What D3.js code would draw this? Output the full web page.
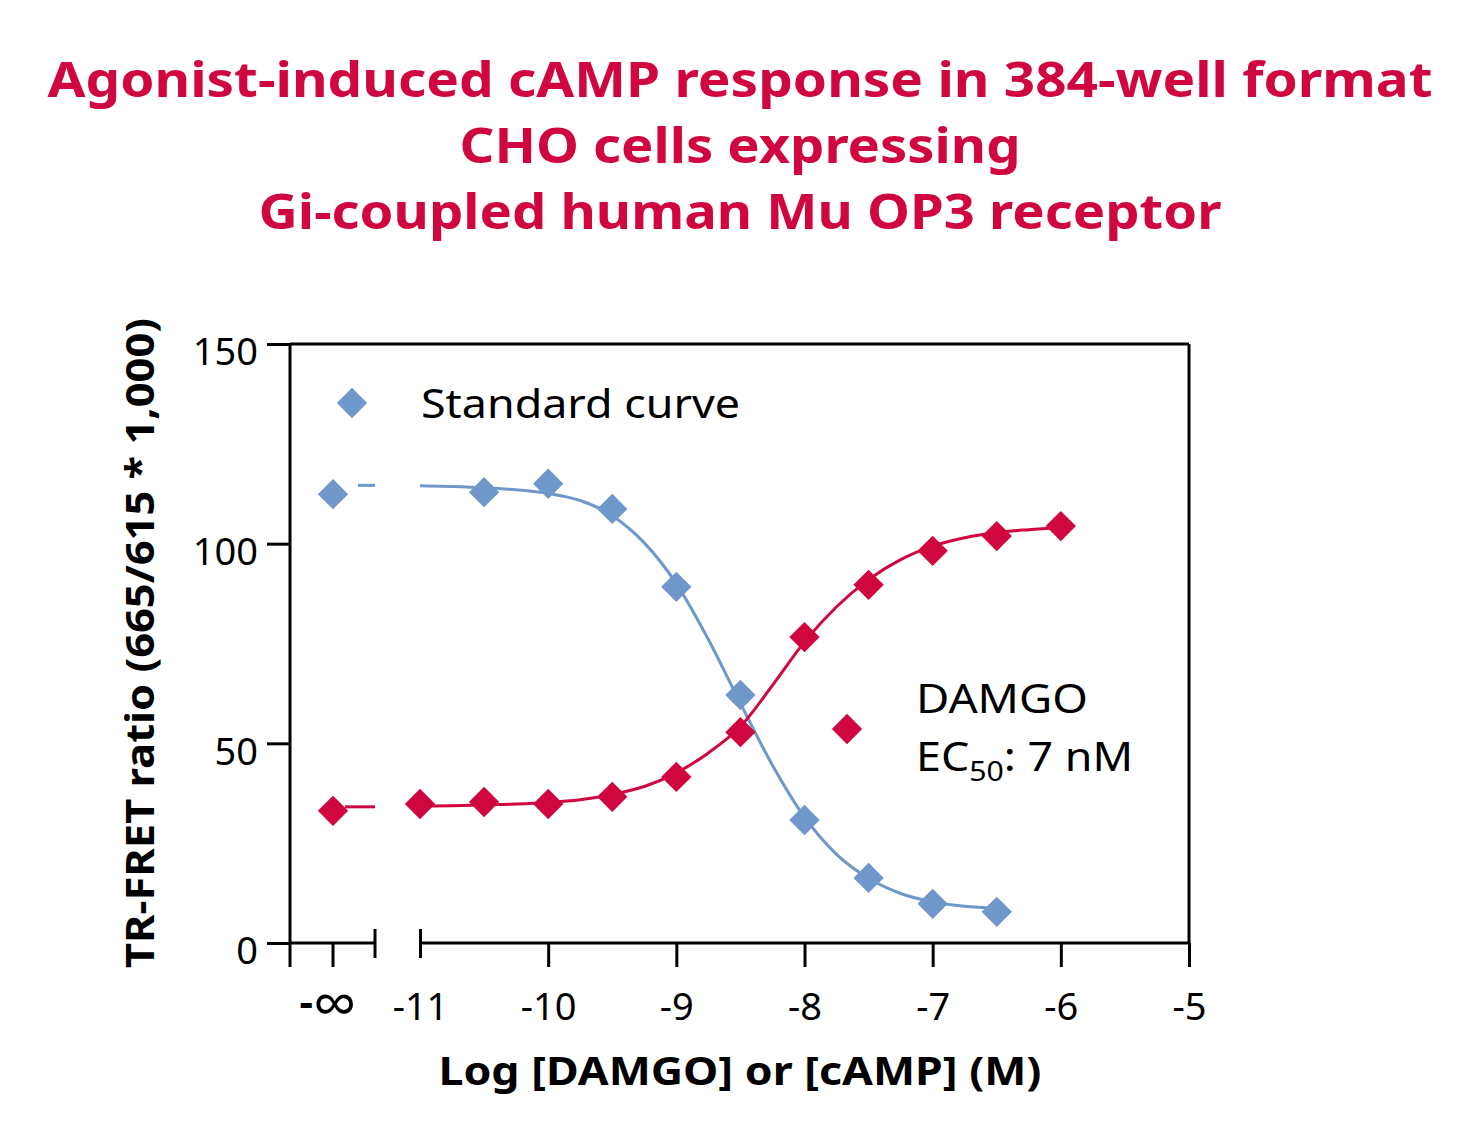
<!DOCTYPE html>
<html>
<head>
<meta charset="utf-8">
<script src="https://cdn.jsdelivr.net/npm/d3@7"></script>
<style>
  body { margin: 0; background: #fff; }
  text { font-family: "Noto Sans", "Open Sans", sans-serif; }
</style>
</head>
<body>
<svg id="chart"></svg>
<script>
// ---- data ----
var titleLines = ["Agonist-induced cAMP response in 384-well format",
                  "CHO cells expressing",
                  "Gi-coupled human Mu OP3 receptor"];
var titleWidths = [1385, 561, 963];

var xTicks = [-11, -10, -9, -8, -7, -6, -5];
var xTickLabels = ["-11", "-10", "-9", "-8", "-7", "-6", "-5"];
var yTicks = [0, 50, 100, 150];

// "-inf" point (no ligand) is plotted on the separate left segment
var stdLogConc = [-10.5, -10, -9.5, -9, -8.5, -8, -7.5, -7, -6.5];
var stdValues  = [112.9, 115.0, 108.7, 89.2, 62.1, 30.8, 16.3, 9.8, 7.8];
var stdZero    = 112.4;

var damgoLogConc = [-11, -10.5, -10, -9.5, -9, -8.5, -8, -7.5, -7, -6.5, -6];
var damgoValues  = [34.8, 35.3, 34.8, 36.6, 41.6, 52.8, 76.6, 89.7, 98.2, 101.9, 104.4];
var damgoZero    = 33.1;

// fitted curves
var stdFitX = [-11, -10.75, -10.5, -10.25, -10, -9.75, -9.5, -9.25, -9, -8.75, -8.5, -8.25, -8, -7.75, -7.5, -7.25, -7, -6.75, -6.5];
var stdFitY = [114.5, 114.3, 114.0, 113.5, 112.6, 110.8, 107.0, 100.2, 90.0, 76.0, 60.0, 44.5, 31.5, 22.2, 16.2, 12.4, 10.3, 9.2, 8.7];
var stdFitZero = 114.6;

var damgoFitX = [-11, -10.75, -10.5, -10.25, -10, -9.75, -9.5, -9.25, -9, -8.75, -8.5, -8.25, -8, -7.75, -7.5, -7.25, -7, -6.75, -6.5, -6.25, -6];
var damgoFitY = [34.3, 34.4, 34.6, 34.8, 35.2, 35.9, 37.2, 39.2, 42.6, 47.6, 54.2, 64.5, 75.4, 84.2, 91.0, 96.0, 99.4, 101.5, 102.8, 103.5, 104.0];
var damgoFitZero = 34.1;

var blue = "#7097c9";
var red = "#d0063e";

// ---- layout ----
var W = 1480, H = 1140;
var margin = { top: 344, right: 291, bottom: 197, left: 290 };
var width = W - margin.left - margin.right;
var height = H - margin.top - margin.bottom;

var svg = d3.select("#chart")
  .attr("width", W)
  .attr("height", H);

// title
svg.selectAll(".title")
  .data(titleLines)
  .enter().append("text")
  .attr("class", "title")
  .attr("x", 740)
  .attr("y", function(d, i) { return 97 + i * 66; })
  .attr("text-anchor", "middle")
  .attr("font-size", "49px")
  .attr("font-weight", "bold")
  .attr("fill", red)
  .attr("textLength", function(d, i) { return titleWidths[i]; })
  .attr("lengthAdjust", "spacingAndGlyphs")
  .text(function(d) { return d; });

var g = svg.append("g")
  .attr("transform", "translate(" + margin.left + "," + margin.top + ")");

// main x scale for -11 .. -5, plus a fixed spot for the -inf segment
var x = d3.scaleLinear().domain([-11, -5]).range([130, width]);
var xZero = 43;              // position of the -inf point
var breakLeft = 85;

var y = d3.scaleLinear().domain([0, 150]).range([height, 0]);

// frame: top and right edges
g.append("line").attr("x1", 0).attr("x2", width).attr("y1", 0).attr("y2", 0)
  .attr("stroke", "#000").attr("stroke-width", 3);
g.append("line").attr("x1", width).attr("x2", width).attr("y1", 0).attr("y2", height)
  .attr("stroke", "#000").attr("stroke-width", 3);

// y axis
var yAxis = g.append("g")
  .call(d3.axisLeft(y).tickValues(yTicks).tickSize(23).tickSizeOuter(0));
yAxis.select(".domain").remove();
yAxis.append("line").attr("x1", 0).attr("x2", 0).attr("y1", 0).attr("y2", height + 24)
  .attr("stroke", "#000").attr("stroke-width", 3);
yAxis.selectAll(".tick line").attr("stroke-width", 3);
yAxis.selectAll("text")
  .attr("font-size", "38px")
  .attr("fill", "#000")
  .attr("dx", "-6px")
  .attr("dy", "0.55em");

// x axis, main segment
var xAxis = g.append("g")
  .attr("transform", "translate(0," + height + ")")
  .call(d3.axisBottom(x).tickValues(xTicks)
    .tickFormat(function(d, i) { return xTickLabels[i]; })
    .tickSize(24).tickSizeOuter(0));
xAxis.select(".domain").remove();
xAxis.append("line").attr("x1", x(-11)).attr("x2", width).attr("y1", 0).attr("y2", 0)
  .attr("stroke", "#000").attr("stroke-width", 3);
xAxis.selectAll(".tick line").attr("stroke-width", 3);
// -11 tick is the break end: centred on the axis
xAxis.selectAll(".tick").filter(function(d) { return d === -11; })
  .select("line").attr("y1", -14).attr("y2", 15);
xAxis.selectAll("text")
  .attr("font-size", "38px")
  .attr("fill", "#000")
  .attr("dy", "1.32em");

// x axis, -inf segment
var seg = g.append("g").attr("transform", "translate(0," + height + ")");
seg.append("line").attr("x1", 0).attr("x2", breakLeft).attr("y1", 0).attr("y2", 0)
  .attr("stroke", "#000").attr("stroke-width", 3);
seg.append("line").attr("x1", breakLeft).attr("x2", breakLeft).attr("y1", -14).attr("y2", 15)
  .attr("stroke", "#000").attr("stroke-width", 3);
seg.append("line").attr("x1", xZero).attr("x2", xZero).attr("y1", 0).attr("y2", 24)
  .attr("stroke", "#000").attr("stroke-width", 3);
var inf = seg.append("text")
  .attr("x", xZero - 5).attr("y", 74)
  .attr("text-anchor", "middle");
inf.append("tspan").attr("font-size", "42px").attr("font-weight", "bold").text("-");
inf.append("tspan").attr("font-size", "62px").attr("dy", "9").text("\u221E");

// axis titles
svg.append("text")
  .attr("x", 740).attr("y", 1085)
  .attr("text-anchor", "middle")
  .attr("font-size", "40px")
  .attr("font-weight", "bold")
  .attr("textLength", 603)
  .attr("lengthAdjust", "spacingAndGlyphs")
  .text("Log [DAMGO] or [cAMP] (M)");

svg.append("text")
  .attr("transform", "translate(154,643) rotate(-90)")
  .attr("text-anchor", "middle")
  .attr("font-size", "40px")
  .attr("font-weight", "bold")
  .attr("textLength", 650)
  .attr("lengthAdjust", "spacingAndGlyphs")
  .text("TR-FRET ratio (665/615 * 1,000)");

// fitted curves
var line = d3.line()
  .x(function(d) { return x(d[0]); })
  .y(function(d) { return y(d[1]); })
  .curve(d3.curveMonotoneX);

g.append("path")
  .datum(d3.zip(stdFitX, stdFitY))
  .attr("d", line)
  .attr("fill", "none").attr("stroke", blue).attr("stroke-width", 3);
g.append("line")
  .attr("x1", 68).attr("x2", breakLeft).attr("y1", y(stdFitZero)).attr("y2", y(stdFitZero))
  .attr("stroke", blue).attr("stroke-width", 3);

g.append("path")
  .datum(d3.zip(damgoFitX, damgoFitY))
  .attr("d", line)
  .attr("fill", "none").attr("stroke", red).attr("stroke-width", 3);
g.append("line")
  .attr("x1", 55).attr("x2", breakLeft).attr("y1", y(damgoFitZero)).attr("y2", y(damgoFitZero))
  .attr("stroke", red).attr("stroke-width", 3);

// diamonds
var diamond = d3.symbol().type(d3.symbolSquare).size(460);

function drawPoints(xs, ys, zero, color) {
  g.selectAll(null)
    .data(d3.zip(xs, ys))
    .enter().append("path")
    .attr("d", diamond)
    .attr("transform", function(d) { return "translate(" + x(d[0]) + "," + y(d[1]) + ") rotate(45)"; })
    .attr("fill", color);
  g.append("path")
    .attr("d", diamond)
    .attr("transform", "translate(" + xZero + "," + y(zero) + ") rotate(45)")
    .attr("fill", color);
}
drawPoints(stdLogConc, stdValues, stdZero, blue);
drawPoints(damgoLogConc, damgoValues, damgoZero, red);

// legends
svg.append("path").attr("d", diamond)
  .attr("transform", "translate(352,403) rotate(45)").attr("fill", blue);
svg.append("text")
  .attr("x", 421).attr("y", 418)
  .attr("font-size", "40px")
  .attr("textLength", 319)
  .attr("lengthAdjust", "spacingAndGlyphs")
  .text("Standard curve");

svg.append("path").attr("d", diamond)
  .attr("transform", "translate(847,729) rotate(45)").attr("fill", red);
svg.append("text")
  .attr("x", 916).attr("y", 713)
  .attr("font-size", "40px")
  .attr("textLength", 172)
  .attr("lengthAdjust", "spacingAndGlyphs")
  .text("DAMGO");
var ec = svg.append("text")
  .attr("x", 916).attr("y", 771)
  .attr("font-size", "40px")
  .attr("textLength", 217)
  .attr("lengthAdjust", "spacingAndGlyphs");
ec.append("tspan").text("EC");
ec.append("tspan").attr("font-size", "27px").attr("dy", "10").text("50");
ec.append("tspan").attr("dy", "-10").text(": 7 nM");
</script>
</body>
</html>
